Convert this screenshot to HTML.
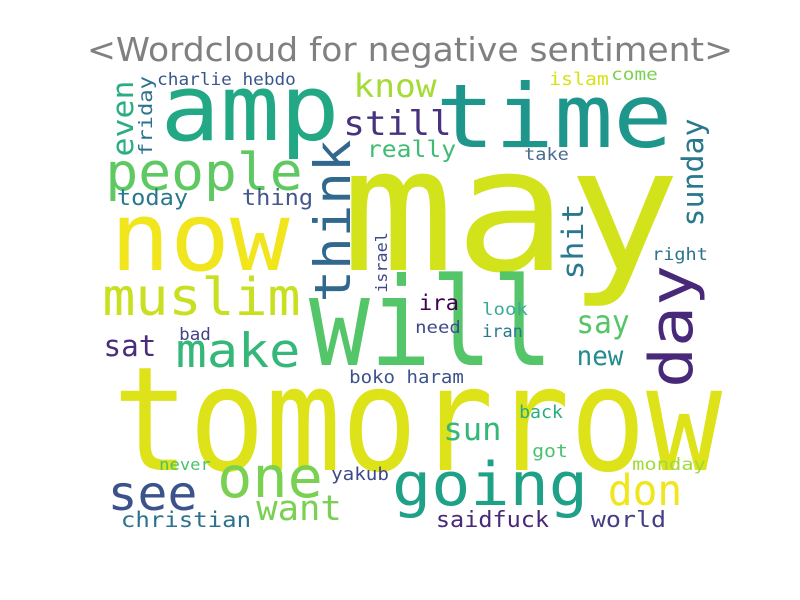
<!DOCTYPE html>
<html><head><meta charset="utf-8">
<style>
html,body{margin:0;padding:0;background:#fff;}
svg{display:block;}
text{font-family:"DejaVu Sans Mono","Liberation Mono",monospace;}
</style></head>
<body>
<svg id="chart" width="800" height="600" viewBox="0 0 800 600">
<rect width="800" height="600" fill="#ffffff"/>
<text x="410" y="61" text-anchor="middle" font-size="33" fill="#808080" textLength="646" lengthAdjust="spacingAndGlyphs" style="font-family:'DejaVu Sans','Liberation Sans',sans-serif">&lt;Wordcloud for negative sentiment&gt;</text>
<g id="words"></g>
</svg>
<script>
const words = ["may","tomorrow","will","amp","time","now","people","muslim","make","still","know","really","thing","today","charlie hebdo","islam","come","take","right","say","new","ira","look","need","iran","bad","sat","boko haram","back","sun","got","never","monday","yakub","one","see","going","don","want","christian","saidfuck","world","think","day","sunday","shit","even","friday","israel"];
const weights = [172,145,122,92,88,95,52,52,47,34,32,23,22,22,17,18,17,17,17,32,27,21,17,17,17,17,29,18,18,31,18,16,17,18,57,48,60,43,35,21,22,22,50,60,29,29,29,19,16];
const colors = ["#d2e21b","#dde318","#54c568","#22a884","#1f968b","#f1e51d","#5ec962","#c8e020","#35b779","#46327e","#a5db36","#3fbc73","#46588b","#2a788e","#39568c","#d8e219","#7ad151","#4a6a90","#2c728e","#54c568","#238a8d","#440154","#3ba99a","#3e4a89","#2a788e","#414487","#472d7b","#3b528b","#27ad81","#35b779","#4ac16d","#4ac16d","#a0da39","#3e4989","#7ad151","#3b528b","#1fa187","#f1e51d","#7ad151","#2c728e","#482878","#433e85","#31688e","#482878","#2a788e","#2a788e","#29af7f","#2c728e","#3e4989"];
// layout: [x, baseline y, ink span, rotated]
const layout = [[350,270,322,0],[120,470,595,0],[315,365,232,0],[165,140,170,0],[440,147,228,0],[115,270,170,0],[108,190,192,0],[105,315,193,0],[178,367,120,0],[345,135,105,0],[355,97,80,0],[368,157,87,0],[243,205,69,0],[118,205,69,0],[158,85,137,0],[550,85,58,0],[612,80,45,0],[525,160,43,0],[653,260,54,0],[578,333,50,0],[578,365,44,0],[420,310,38,0],[483,315,44,0],[416,333,44,0],[483,337,39,0],[180,340,30,0],[105,356,50,0],[350,383,113,0],[520,418,42,0],[445,440,55,0],[533,457,34,0],[160,470,50,0],[633,470,72,0],[332,480,56,0],[220,497,100,0],[110,510,85,0],[395,505,190,0],[610,505,70,0],[258,520,82,0],[122,527,128,0],[437,527,111,0],[592,527,73,0],[350,300,158,1],[692,385,117,1],[703,225,105,1],[583,278,73,1],[133,155,73,1],[152,155,78,1],[387,292,59,1]];
const g = document.getElementById('words');
const NS = "http://www.w3.org/2000/svg";
for (let i = 0; i < words.length; i++) {
  const fs = weights[i];
  const L = layout[i];
  const t = document.createElementNS(NS, 'text');
  
  
  t.setAttribute('font-size', fs);
  t.setAttribute('fill', colors[i]);
  t.setAttribute('textLength', (L[2] + 0.1 * fs).toFixed(1));
  t.setAttribute('lengthAdjust', 'spacingAndGlyphs');
  if (L[3]) {
    t.setAttribute('x', 0);
    t.setAttribute('y', 0);
    t.setAttribute('transform', 'translate(' + L[0] + ',' + (L[1] + 0.05 * fs) + ') rotate(-90)');
  } else {
    t.setAttribute('x', L[0] - 0.05 * fs);
    t.setAttribute('y', L[1]);
  }
  t.textContent = words[i];
  g.appendChild(t);
}
</script>
</body></html>
